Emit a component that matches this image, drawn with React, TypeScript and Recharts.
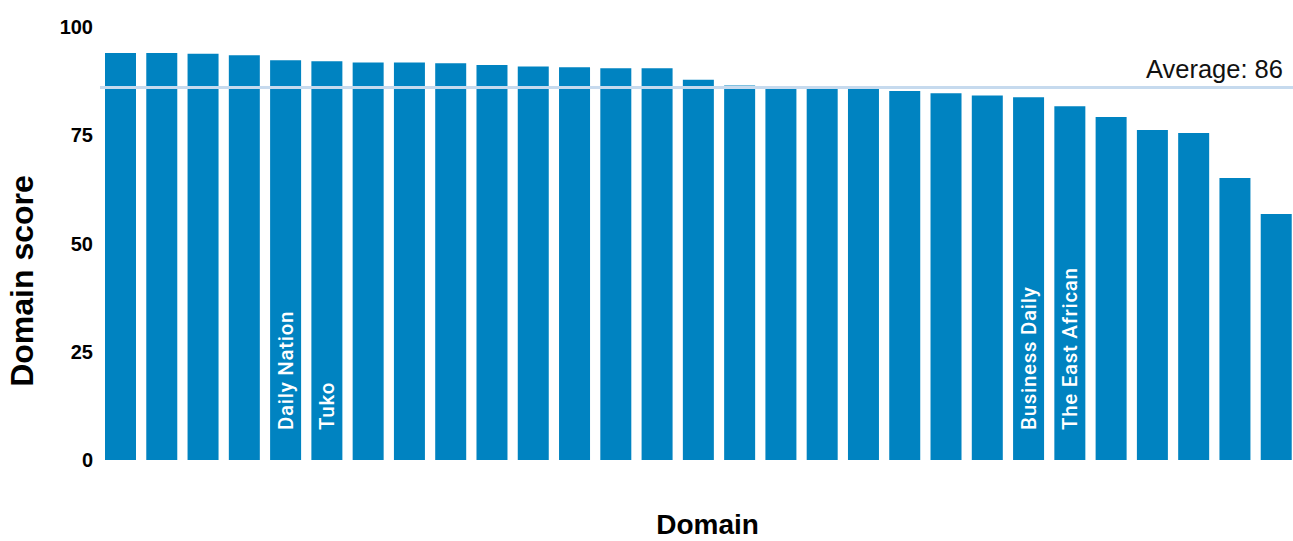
import { BarChart, Bar, XAxis, YAxis, ReferenceLine, LabelList } from 'recharts';

// rank of each domain, sorted by score (descending)
const ranks = [
  1, 2, 3, 4, 5, 6, 7, 8, 9, 10, 11, 12, 13, 14, 15,
  16, 17, 18, 19, 20, 21, 22, 23, 24, 25, 26, 27, 28, 29,
];

const scores = [
  94.0, 94.0, 93.8, 93.5, 92.3, 92.1, 91.8, 91.8, 91.6, 91.2,
  90.9, 90.7, 90.5, 90.5, 87.8, 86.5, 86.0, 85.9, 85.8, 85.2,
  84.7, 84.2, 83.8, 81.7, 79.2, 76.2, 75.5, 65.1, 56.8,
];

// only a few bars are named in the chart
const barLabels = [
  '', '', '', '', 'Daily Nation', 'Tuko', '', '', '', '',
  '', '', '', '', '', '', '', '', '', '',
  '', '', 'Business Daily', 'The East African', '', '', '', '', '',
];

const yTicks = [0, 25, 50, 75, 100];
const average = 86;

const data = ranks.map((rank, i) => ({
  rank,
  score: scores[i],
  label: barLabels[i],
}));

const BAR_COLOR = '#0083c1';
const AVG_COLOR = '#c6daee';

// white vertical name written inside the bar
function renderBarName(props: any) {
  const { x, y, width, height, value } = props;
  if (!value) return null;
  const tx = x + width / 2 + 7;
  const ty = y + height - 30;
  return (
    <text
      x={tx}
      y={ty}
      transform={`rotate(-90, ${tx}, ${ty})`}
      fill="#ffffff"
      fontSize={20.5}
      fontWeight={500}
      letterSpacing={0.7}
      fontFamily="Roboto, sans-serif"
      textAnchor="start"
    >
      {value}
    </text>
  );
}

function YTitle(props: any) {
  const { viewBox } = props;
  const tx = viewBox.x + 33;
  const ty = 281;
  return (
    <text
      x={tx}
      y={ty}
      transform={`rotate(-90, ${tx}, ${ty})`}
      textAnchor="middle"
      fontSize={32}
      fontWeight={700}
      fill="#000"
    >
      Domain score
    </text>
  );
}

function XTitle(props: any) {
  const { viewBox } = props;
  return (
    <text
      x={viewBox.x + viewBox.width / 2 + 9}
      y={viewBox.y + 74}
      textAnchor="middle"
      fontSize={28}
      fontWeight={700}
      fill="#000"
    >
      Domain
    </text>
  );
}

function AverageLabel(props: any) {
  const { viewBox } = props;
  return (
    <text
      x={viewBox.x + viewBox.width - 14}
      y={viewBox.y - 10}
      textAnchor="end"
      fontSize={25.5}
      fill="#111"
    >
      {`Average: ${average}`}
    </text>
  );
}

export default function App() {
  return (
    <div
      style={{
        position: 'fixed',
        left: 0,
        top: 0,
        width: 1293,
        height: 541,
        overflow: 'hidden',
        background: '#fff',
      }}
    >
      <BarChart
        width={1297}
        height={541}
        data={data}
        margin={{ top: 27, right: 0, bottom: 0, left: 0 }}
        style={{ fontFamily: '"Liberation Sans", Arial, sans-serif' }}
      >
        <XAxis
          dataKey="rank"
          type="category"
          tick={false}
          axisLine={false}
          tickLine={false}
          height={81}
          label={<XTitle />}
        />
        <YAxis
          type="number"
          domain={[0, 100]}
          ticks={yTicks}
          width={100}
          axisLine={false}
          tickLine={false}
          tickSize={0}
          tickMargin={7}
          tick={{ fill: '#000', fontSize: 20, fontWeight: 700 }}
          label={<YTitle />}
        />
        <Bar dataKey="score" fill={BAR_COLOR} barSize={31} isAnimationActive={false}>
          <LabelList dataKey="label" content={renderBarName} />
        </Bar>
        <ReferenceLine
          y={average}
          stroke={AVG_COLOR}
          strokeWidth={3}
          label={<AverageLabel />}
        />
      </BarChart>
    </div>
  );
}
